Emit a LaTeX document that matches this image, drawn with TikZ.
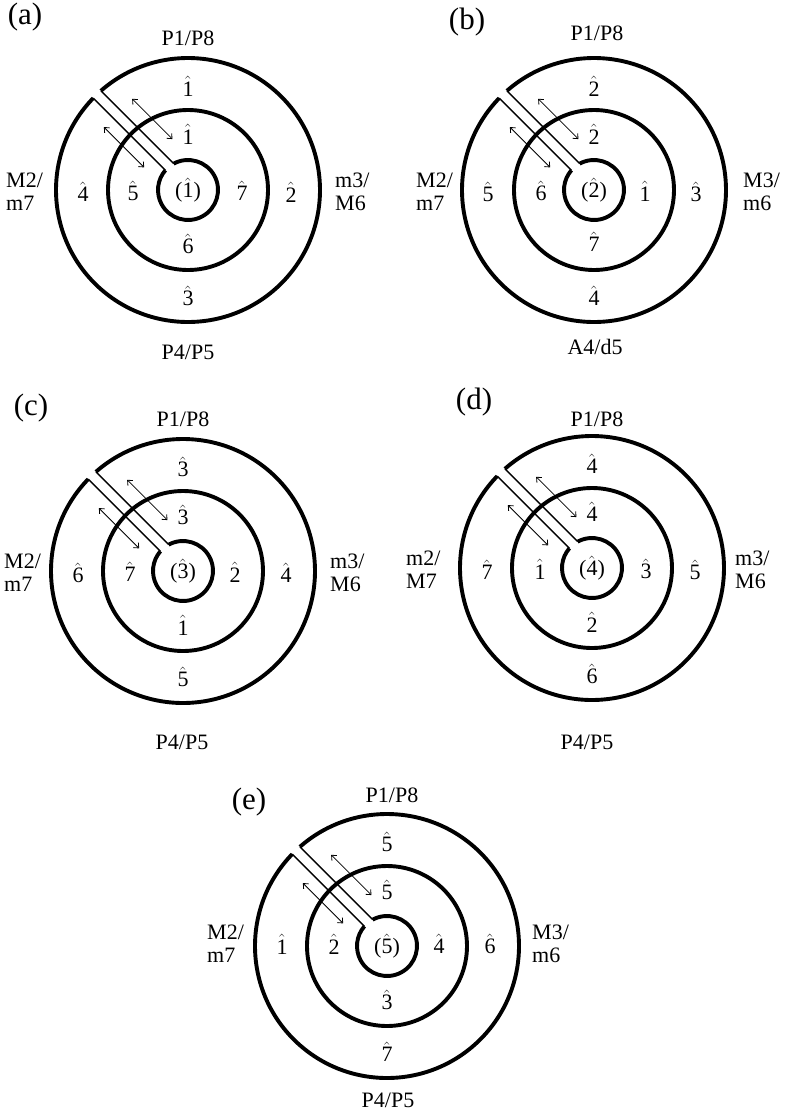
\documentclass[tikz,border=0pt]{standalone}
\usepackage{amsmath}
\usepackage{fontspec}
\setmainfont{Liberation Serif}
\usetikzlibrary{arrows.meta}

\newcommand{\dg}[1]{\ensuremath{\hat{\text{#1}}}}

% one disc: outer ring cut by the slit, middle ring, small centre ring
\newcommand{\wheel}{%
  \draw[ring] (135.9:132) arc[start angle=135.9,end angle=491.3,radius=132];
  \draw[ring] (0,0) circle[radius=80];
  \draw[ring] (118.5:30) arc[start angle=118.5,end angle=-221.2,radius=30];
  \begin{scope}[rotate=45]
    \draw[slit] (8.5,28.8) -- (8.5,131.7);
    \draw[slit] (-2,29.9) -- (-2,132);
    \draw[twoway] (25,47) -- (25,104);
    \draw[twoway] (-15,47) -- (-15,104);
  \end{scope}}

\begin{document}
\begin{tikzpicture}[x=1pt,y=1pt,
  ring/.style={line width=3.9pt},
  slit/.style={line width=1.4pt},
  twoway/.style={{Straight Barb[length=4pt,width=7pt]}-{Straight Barb[length=4pt,width=7pt]},line width=0.8pt},
  deg/.style={font=\fontsize{22}{23}\selectfont,inner sep=0pt},
  sidelab/.style={font=\fontsize{22}{23}\selectfont,align=left,inner sep=0pt},
  panel/.style={font=\fontsize{31}{32}\selectfont,inner sep=0pt}]
\useasboundingbox (0,0) rectangle (789,-1112);
\coordinate (ca) at (188,-190);
\coordinate (cb) at (594,-190);
\coordinate (cc) at (183,-571);
\coordinate (cd) at (592,-568);
\coordinate (ce) at (387,-946);

% (a)
\node[panel] (a-tag) at (25,-17) {(a)};
\node[deg] (a-p18) at (188,-38) {P1/P8};
\node[deg] (a-p45) at (188,-352) {P4/P5};
\begin{scope}[shift={(ca)}]
\wheel
\node[sidelab,anchor=west] (a-left) at (-182,-2) {M2/\\m7};
\node[sidelab,anchor=west] (a-right) at (147,-2) {m3/\\M6};
\node[deg] (a-key) at (0,0) {(\dg{1})};
\node[deg] (a-o1) at (0,104) {\dg{1}};
\node[deg] (a-o2) at (103,-2) {\dg{2}};
\node[deg] (a-o3) at (0,-106) {\dg{3}};
\node[deg] (a-o4) at (-105,-2) {\dg{4}};
\node[deg] (a-m1) at (0,56) {\dg{1}};
\node[deg] (a-m7) at (54,-1) {\dg{7}};
\node[deg] (a-m6) at (0,-54) {\dg{6}};
\node[deg] (a-m5) at (-55,-1) {\dg{5}};
\end{scope}

% (b)
\node[panel] (b-tag) at (467,-22) {(b)};
\node[deg] (b-p18) at (597,-33) {P1/P8};
\node[deg] (b-a4d5) at (595,-347) {A4/d5};
\begin{scope}[shift={(cb)}]
\wheel
\node[sidelab,anchor=west] (b-left) at (-178,-2) {M2/\\m7};
\node[sidelab,anchor=west] (b-right) at (149,-2) {M3/\\m6};
\node[deg] (b-key) at (0,0) {(\dg{2})};
\node[deg] (b-o2) at (0,104) {\dg{2}};
\node[deg] (b-o3) at (102,-2) {\dg{3}};
\node[deg] (b-o4) at (0,-106) {\dg{4}};
\node[deg] (b-o5) at (-106,-2) {\dg{5}};
\node[deg] (b-m2) at (0,56) {\dg{2}};
\node[deg] (b-m1) at (51,-1) {\dg{1}};
\node[deg] (b-m7) at (0,-52) {\dg{7}};
\node[deg] (b-m6) at (-53,-1) {\dg{6}};
\end{scope}

% (c)
\node[panel] (c-tag) at (31,-408) {(c)};
\node[deg] (c-p18) at (183,-419) {P1/P8};
\node[deg] (c-p45) at (182,-742) {P4/P5};
\begin{scope}[shift={(cc)}]
\wheel
\node[sidelab,anchor=west] (c-left) at (-179,-2) {M2/\\m7};
\node[sidelab,anchor=west] (c-right) at (147,-2) {m3/\\M6};
\node[deg] (c-key) at (0,0) {(\dg{3})};
\node[deg] (c-o3) at (0,104) {\dg{3}};
\node[deg] (c-o4) at (103,-2) {\dg{4}};
\node[deg] (c-o5) at (0,-106) {\dg{5}};
\node[deg] (c-o6) at (-105,-2) {\dg{6}};
\node[deg] (c-m3) at (0,56) {\dg{3}};
\node[deg] (c-m2) at (52,-1) {\dg{2}};
\node[deg] (c-m1) at (0,-54) {\dg{1}};
\node[deg] (c-m7) at (-53,-1) {\dg{7}};
\end{scope}

% (d)
\node[panel] (d-tag) at (474,-402) {(d)};
\node[deg] (d-p18) at (597,-419) {P1/P8};
\node[deg] (d-p45) at (587,-742) {P4/P5};
\begin{scope}[shift={(cd)}]
\wheel
\node[sidelab,anchor=west] (d-left) at (-186,-2) {m2/\\M7};
\node[sidelab,anchor=west] (d-right) at (143,-2) {m3/\\M6};
\node[deg] (d-key) at (0,0) {(\dg{4})};
\node[deg] (d-o4) at (0,104) {\dg{4}};
\node[deg] (d-o5) at (103,-2) {\dg{5}};
\node[deg] (d-o6) at (0,-106) {\dg{6}};
\node[deg] (d-o7) at (-105,-2) {\dg{7}};
\node[deg] (d-m4) at (0,56) {\dg{4}};
\node[deg] (d-m3) at (54,-1) {\dg{3}};
\node[deg] (d-m2) at (0,-54) {\dg{2}};
\node[deg] (d-m1) at (-52,-1) {\dg{1}};
\end{scope}

% (e)
\node[panel] (e-tag) at (249,-802) {(e)};
\node[deg] (e-p18) at (392,-795) {P1/P8};
\node[deg] (e-p45) at (388,-1100) {P4/P5};
\begin{scope}[shift={(ce)}]
\wheel
\node[sidelab,anchor=west] (e-left) at (-180,2) {M2/\\m7};
\node[sidelab,anchor=west] (e-right) at (145,2) {M3/\\m6};
\node[deg] (e-key) at (0,0) {(\dg{5})};
\node[deg] (e-o5) at (0,104) {\dg{5}};
\node[deg] (e-o6) at (103,2) {\dg{6}};
\node[deg] (e-o7) at (0,-106) {\dg{7}};
\node[deg] (e-o1) at (-105,2) {\dg{1}};
\node[deg] (e-m5) at (0,56) {\dg{5}};
\node[deg] (e-m4) at (52,2) {\dg{4}};
\node[deg] (e-m3) at (0,-54) {\dg{3}};
\node[deg] (e-m2) at (-53,2) {\dg{2}};
\end{scope}
\end{tikzpicture}
\end{document}
